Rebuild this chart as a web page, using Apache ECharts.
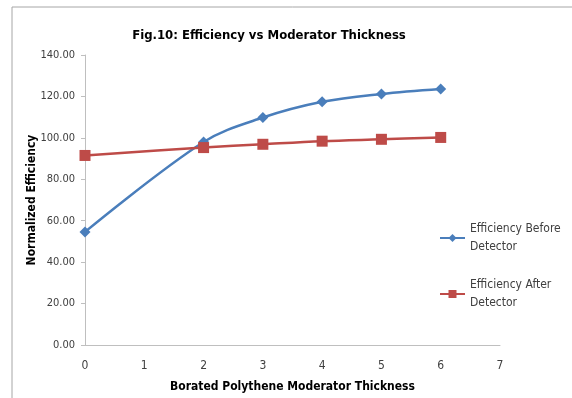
<!DOCTYPE html>
<html><head><meta charset="utf-8">
<script src="https://cdn.jsdelivr.net/npm/echarts@6/dist/echarts.min.js"></script>
<style>html,body{margin:0;padding:0;background:#fff}#c{width:572px;height:398px}</style>
</head><body><div id="c"></div>
<script>
var thickness = [0, 2, 3, 4, 5, 6];
var before = [54.6, 98.0, 109.8, 117.4, 121.2, 123.6];
var after = [91.5, 95.3, 96.9, 98.4, 99.3, 100.2];
var seriesNames = ['Efficiency Before\nDetector', 'Efficiency After\nDetector'];
var font = '"Liberation Sans Narrow", "DejaVu Sans Condensed", "Liberation Sans", sans-serif';
function pairs(xs, ys){ return xs.map(function(x,i){return [x, ys[i]];}); }
var chart = echarts.init(document.getElementById('c'));
chart.setOption({
  animation: false,
  graphic: [{type:'rect', shape:{x:12, y:7, width:600, height:420}, style:{fill:'none', stroke:'#a6a6a6', lineWidth:1}}],
  title: {text:'Fig.10: Efficiency vs Moderator Thickness', left:264, textAlign:'center', top:24,
    textStyle:{fontFamily:font, fontSize:13, fontWeight:'bold', color:'#000'}},
  grid: {left:85, top:55, width:415, height:290, containLabel:false},
  legend: {orient:'vertical', left:434, top:215, itemWidth:25, itemHeight:10, itemGap:20,
    textStyle:{fontFamily:font, fontSize:12, color:'#404040', lineHeight:18},
    data: seriesNames},
  xAxis: {type:'value', min:0, max:7, interval:1,
    name:'Borated Polythene Moderator Thickness', nameLocation:'middle', nameGap:36,
    nameTextStyle:{fontFamily:font, fontSize:12, fontWeight:'bold', color:'#000'},
    axisLine:{lineStyle:{color:'#bfbfbf'}}, axisTick:{show:false}, splitLine:{show:false},
    axisLabel:{fontFamily:font, fontSize:12, color:'#404040', margin:15}},
  yAxis: {type:'value', min:0, max:140, interval:20,
    name:'Normalized Efficiency', nameLocation:'middle', nameGap:47, nameMoveOverlap:false,
    nameTextStyle:{fontFamily:font, fontSize:12, fontWeight:'bold', color:'#000'},
    axisLine:{show:true, lineStyle:{color:'#bfbfbf'}}, axisTick:{show:true, length:4, lineStyle:{color:'#bfbfbf'}}, splitLine:{show:false},
    axisLabel:{fontFamily:font, fontSize:11, color:'#404040', margin:10, formatter:function(v){return v.toFixed(2);}}},
  series: [
    {name:seriesNames[0], type:'line', data:pairs(thickness, before), smooth:0.35,
     symbol:'diamond', symbolSize:11, itemStyle:{color:'#4a7ebb'}, lineStyle:{color:'#4a7ebb', width:2.5}},
    {name:seriesNames[1], type:'line', data:pairs(thickness, after), smooth:0.35,
     symbol:'rect', symbolSize:11, itemStyle:{color:'#be4b48'}, lineStyle:{color:'#be4b48', width:2.5}}
  ]
});
</script></body></html>
